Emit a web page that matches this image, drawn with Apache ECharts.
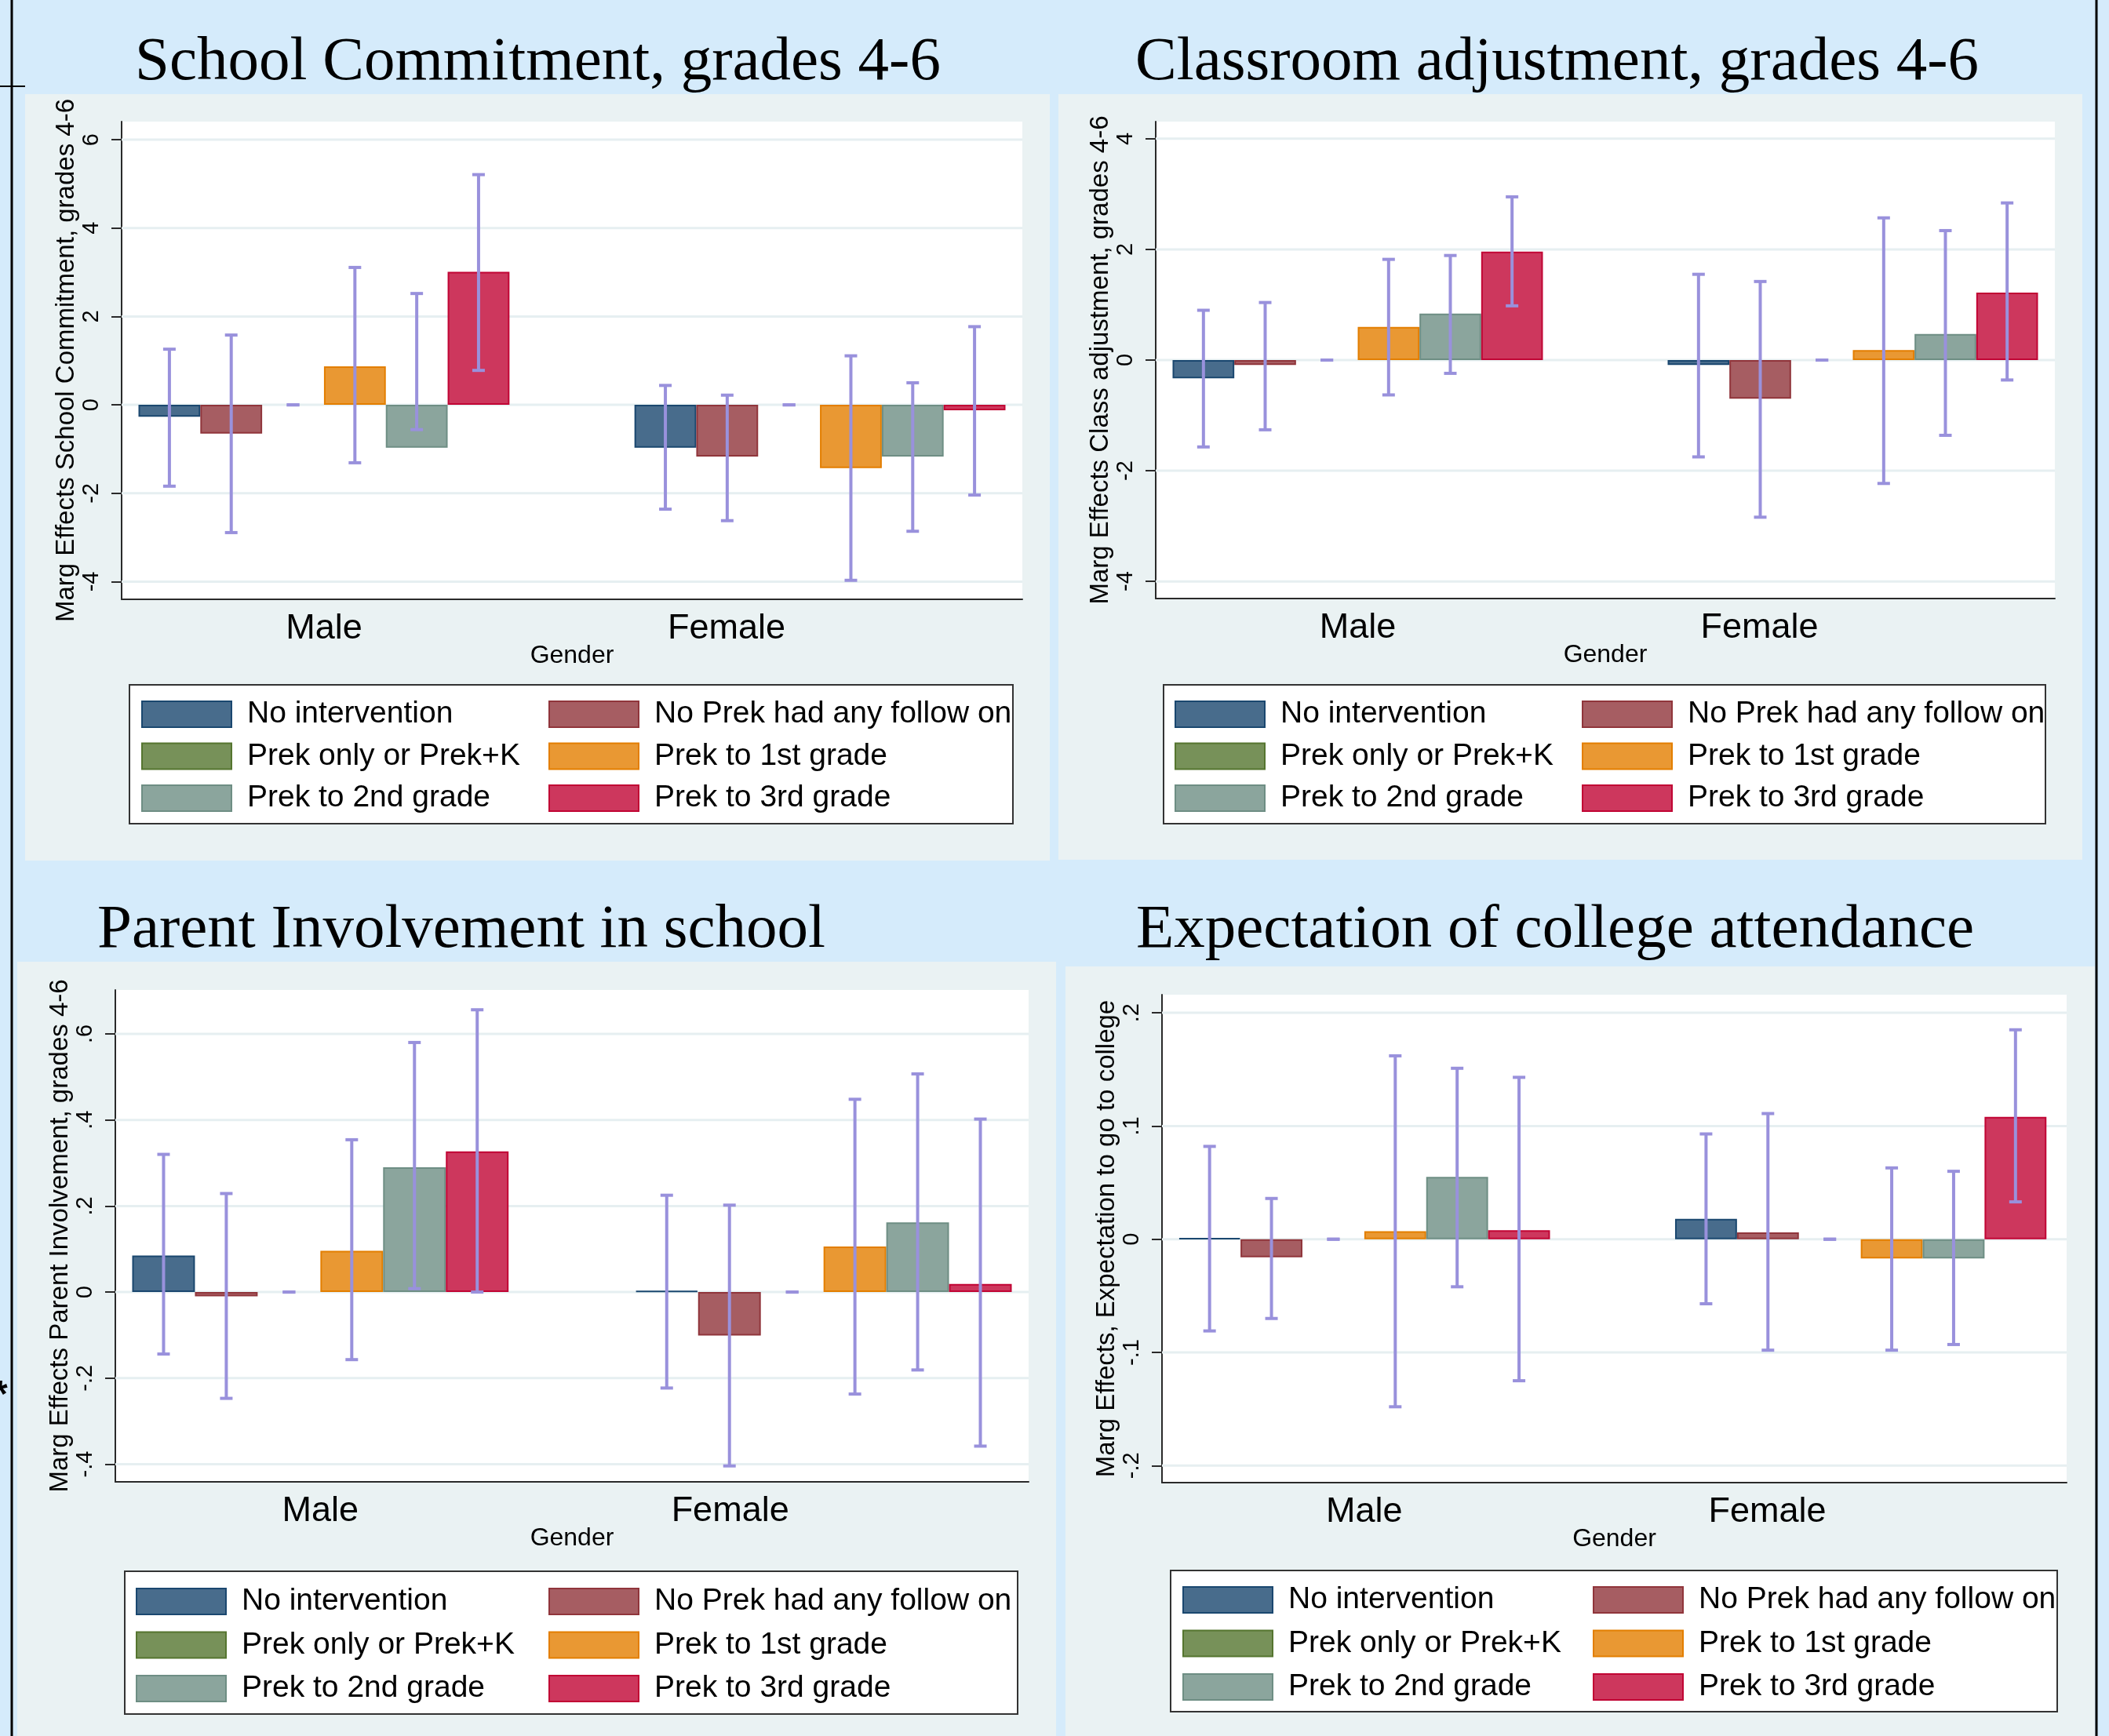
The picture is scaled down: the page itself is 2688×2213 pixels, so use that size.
<!DOCTYPE html>
<html><head><meta charset="utf-8">
<script src="https://cdn.jsdelivr.net/npm/echarts@6/dist/echarts.min.js"></script>
<style>html,body{margin:0;padding:0;background:#d5ebfb}#c{width:2688px;height:2213px}</style>
</head><body><div id="c"></div>
<script>
// ---------------- DATA ----------------
const categories = ['Male', 'Female'];
const seriesNames = ['No intervention', 'No Prek had any follow on', 'Prek only or Prek+K',
  'Prek to 1st grade', 'Prek to 2nd grade', 'Prek to 3rd grade'];
const legendCol1 = ['No intervention', 'Prek only or Prek+K', 'Prek to 2nd grade'];
const legendCol2 = ['No Prek had any follow on', 'Prek to 1st grade', 'Prek to 3rd grade'];
const xAxisTitle = 'Gender';

// Panel 1: School Commitment
const schoolTitle = 'School Commitment, grades 4-6';
const schoolYName = 'Marg Effects School Commitment, grades 4-6';
const schoolTicks = [-4, -2, 0, 2, 4, 6];
const schoolRange = [-4.40, 6.41];
const schoolMale = [-0.27, -0.65, 0, 0.87, -0.97, 3.01];
const schoolMaleLo = [-1.84, -2.89, 0, -1.31, -0.56, 0.78];
const schoolMaleHi = [1.26, 1.58, 0, 3.11, 2.52, 5.21];
const schoolFemale = [-0.97, -1.17, 0, -1.43, -1.17, -0.12];
const schoolFemaleLo = [-2.36, -2.62, 0, -3.97, -2.86, -2.04];
const schoolFemaleHi = [0.44, 0.22, 0, 1.11, 0.50, 1.77];

// Panel 2: Classroom adjustment
const classTitle = 'Classroom adjustment, grades 4-6';
const classYName = 'Marg Effects Class adjustment, grades 4-6';
const classTicks = [-4, -2, 0, 2, 4];
const classRange = [-4.31, 4.31];
const classMale = [-0.33, -0.09, 0, 0.60, 0.84, 1.96];
const classMaleLo = [-1.57, -1.26, 0, -0.63, -0.24, 0.98];
const classMaleHi = [0.90, 1.04, 0, 1.82, 1.89, 2.95];
const classFemale = [-0.09, -0.70, 0, 0.18, 0.47, 1.22];
const classFemaleLo = [-1.75, -2.84, 0, -2.23, -1.36, -0.36];
const classFemaleHi = [1.55, 1.42, 0, 2.57, 2.34, 2.84];

// Panel 3: Parent Involvement
const parentTitle = 'Parent Involvement in school';
const parentYName = 'Marg Effects Parent Involvement, grades 4-6';
const parentTicks = [-0.4, -0.2, 0, 0.2, 0.4, 0.6];
const parentRange = [-0.441, 0.702];
const parentMale = [0.085, -0.010, 0, 0.096, 0.290, 0.327];
const parentMaleLo = [-0.144, -0.247, 0, -0.157, 0.008, 0.000];
const parentMaleHi = [0.320, 0.229, 0, 0.354, 0.580, 0.656];
const parentFemale = [0.003, -0.101, 0, 0.106, 0.162, 0.019];
const parentFemaleLo = [-0.223, -0.404, 0, -0.237, -0.181, -0.358];
const parentFemaleHi = [0.225, 0.202, 0, 0.448, 0.507, 0.402];

// Panel 4: Expectation of college attendance
const collegeTitle = 'Expectation of college attendance';
const collegeYName = 'Marg Effects, Expectation to go to college';
const collegeTicks = [-0.2, -0.1, 0, 0.1, 0.2];
const collegeRange = [-0.215, 0.216];
const collegeMale = [0.001, -0.016, 0, 0.007, 0.055, 0.008];
const collegeMaleLo = [-0.081, -0.070, 0, -0.148, -0.042, -0.125];
const collegeMaleHi = [0.082, 0.036, 0, 0.162, 0.151, 0.143];
const collegeFemale = [0.018, 0.006, 0, -0.017, -0.017, 0.108];
const collegeFemaleLo = [-0.057, -0.098, 0, -0.098, -0.093, 0.033];
const collegeFemaleHi = [0.093, 0.111, 0, 0.063, 0.060, 0.185];

// ---------------- STYLE / LAYOUT ----------------
const FILLS = ['#486c8c', '#a65d62', '#779159', '#e99833', '#8ba59d', '#cd375d'];
const EDGES = ['#1a476f', '#90353b', '#55752f', '#e37e00', '#6e8e84', '#c10534'];
const ERR = '#9991dc';
const AXIS = '#2a2a2a';
const GRIDLINE = '#e6eff1';
const PANEL_BG = '#eaf2f3';
const PAGE_BG = '#d5ebfb';
const SANS = '"Liberation Sans", Arial, sans-serif';
const SERIF = '"Liberation Serif", "Times New Roman", serif';
const GAP = 0.252;
const LEGEND_ITEM_H = 39.5;

const panels = [
  { title: schoolTitle, yName: schoolYName, ticks: schoolTicks, range: schoolRange,
    male: schoolMale, maleLo: schoolMaleLo, maleHi: schoolMaleHi,
    female: schoolFemale, femaleLo: schoolFemaleLo, femaleHi: schoolFemaleHi },
  { title: classTitle, yName: classYName, ticks: classTicks, range: classRange,
    male: classMale, maleLo: classMaleLo, maleHi: classMaleHi,
    female: classFemale, femaleLo: classFemaleLo, femaleHi: classFemaleHi },
  { title: parentTitle, yName: parentYName, ticks: parentTicks, range: parentRange,
    male: parentMale, maleLo: parentMaleLo, maleHi: parentMaleHi,
    female: parentFemale, femaleLo: parentFemaleLo, femaleHi: parentFemaleHi },
  { title: collegeTitle, yName: collegeYName, ticks: collegeTicks, range: collegeRange,
    male: collegeMale, maleLo: collegeMaleLo, maleHi: collegeMaleHi,
    female: collegeFemale, femaleLo: collegeFemaleLo, femaleHi: collegeFemaleHi }
];

const layouts = [
  { plot: [155, 155, 1303, 764], bg: [32, 120, 1338, 1097], title: [172, 80],
    legend: [165, 873, 1291, 1050], cols: [180, 699], rows: [908, 962, 1016] },
  { plot: [1473, 155, 2619, 763], bg: [1349, 120, 2654, 1096], title: [1447, 80],
    legend: [1483, 873, 2607, 1050], cols: [1497, 2016], rows: [908, 962, 1016] },
  { plot: [147, 1262, 1311, 1889], bg: [22, 1226, 1346, 2213], title: [124, 1186],
    legend: [159, 2003, 1297, 2185], cols: [173, 699], rows: [2039, 2095, 2151] },
  { plot: [1481, 1268, 2634, 1890], bg: [1358, 1232, 2670, 2213], title: [1448, 1186],
    legend: [1492, 2002, 2622, 2182], cols: [1507, 2030], rows: [2037, 2093, 2149] }
];

const fmtTick = v => (v === 0 ? '0' : String(v).replace('0.', '.'));

function gridLineRender(params, api) {
  const a = api.coord([0, api.value(1)]);
  const b = api.coord([1, api.value(1)]);
  return { type: 'line', shape: { x1: a[0], y1: a[1], x2: b[0], y2: b[1] },
    style: { stroke: GRIDLINE, lineWidth: 3 } };
}

function errRender(params, api) {
  const g = api.value(0), k = api.value(1);
  const c = api.coord([g, 0]);
  const band = api.size([1, 0])[0];
  const bw = band * (1 - GAP) / seriesNames.length;
  const x = c[0] + (k - (seriesNames.length - 1) / 2) * bw;
  const yLo = api.coord([g, api.value(2)])[1];
  const yHi = api.coord([g, api.value(3)])[1];
  const st = { stroke: ERR, lineWidth: 4 };
  return { type: 'group', children: [
    { type: 'line', shape: { x1: x, y1: yLo, x2: x, y2: yHi }, style: st },
    { type: 'line', shape: { x1: x - 8, y1: yLo, x2: x + 8, y2: yLo }, style: st },
    { type: 'line', shape: { x1: x - 8, y1: yHi, x2: x + 8, y2: yHi }, style: st }
  ] };
}

const grid = [], xAxis = [], yAxis = [], series = [], legend = [], graphic = [];

// page decorations
graphic.push({ type: 'line', shape: { x1: 15, y1: 0, x2: 15, y2: 2213 }, style: { stroke: '#000', lineWidth: 3 }, z: 10 });
graphic.push({ type: 'line', shape: { x1: 0, y1: 110, x2: 32, y2: 110 }, style: { stroke: '#000', lineWidth: 2 }, z: 10 });
graphic.push({ type: 'line', shape: { x1: 2672, y1: 0, x2: 2672, y2: 2213 }, style: { stroke: '#000', lineWidth: 3 }, z: 10 });
graphic.push({ type: 'text', x: -9, y: 1780, style: { text: '*', font: 'bold 48px ' + SANS, fill: '#000', verticalAlign: 'middle' }, z: 10 });

panels.forEach((p, i) => {
  const L = layouts[i];
  const [x0, y0, x1, y1] = L.plot;
  const W = x1 - x0, H = y1 - y0;
  const B = (W - 43) / (1 + (1 - GAP));
  const G = (1 - GAP) * B;
  const maleCenter = x0 + 21.5 + G / 2;
  const barLeft = maleCenter - B / 2;

  graphic.push({ type: 'rect', shape: { x: L.bg[0], y: L.bg[1], width: L.bg[2] - L.bg[0], height: L.bg[3] - L.bg[1] },
    style: { fill: PANEL_BG }, z: -10 });
  graphic.push({ type: 'text', x: L.title[0], y: L.title[1],
    style: { text: p.title, font: '79px ' + SERIF, fill: '#000', verticalAlign: 'middle', align: 'left' }, z: 10 });
  graphic.push({ type: 'rect', shape: { x: L.legend[0], y: L.legend[1], width: L.legend[2] - L.legend[0], height: L.legend[3] - L.legend[1] },
    style: { fill: '#fff', stroke: '#333', lineWidth: 2 }, z: 1 });

  const fi = 2 * i, bi = 2 * i + 1;
  grid.push({ left: x0, top: y0, width: W, height: H, show: true, backgroundColor: '#fff', borderWidth: 0, containLabel: false });
  grid.push({ left: barLeft, top: y0, width: 2 * B, height: H, show: false, containLabel: false });

  xAxis.push({ type: 'value', gridIndex: fi, min: 0, max: 1, position: 'bottom',
    axisLine: { show: true, onZero: false, lineStyle: { color: AXIS, width: 2 } },
    axisTick: { show: false }, axisLabel: { show: false }, splitLine: { show: false },
    name: xAxisTitle, nameLocation: 'middle', nameGap: 56,
    nameTextStyle: { fontSize: 32, fontFamily: SANS, color: '#000' } });
  xAxis.push({ type: 'category', gridIndex: bi, data: categories, position: 'bottom',
    axisLine: { show: false }, axisTick: { show: false }, splitLine: { show: false },
    axisLabel: { margin: 15, fontSize: 45, fontFamily: SANS, color: '#000', interval: 0,
      formatter: (v, idx) => (idx === 1 ? '{f|' + v + '}' : '{m|' + v + '}'),
      rich: { m: { fontSize: 45, fontFamily: SANS, color: '#000' },
              f: { fontSize: 45, fontFamily: SANS, color: '#000', padding: [0, 238, 0, 0] } } } });

  yAxis.push({ type: 'value', gridIndex: fi, min: p.range[0], max: p.range[1],
    axisLine: { show: true, onZero: false, lineStyle: { color: AXIS, width: 2 } },
    axisTick: { show: true, length: 13, customValues: p.ticks, lineStyle: { color: AXIS, width: 2 } },
    axisLabel: { customValues: p.ticks, rotate: 90, margin: 24, formatter: fmtTick,
      fontSize: 29, fontFamily: SANS, color: '#000' },
    splitLine: { show: false },
    name: p.yName, nameLocation: 'middle', nameRotate: 90, nameGap: 52,
    nameTextStyle: { fontSize: 33, fontFamily: SANS, color: '#000' } });
  yAxis.push({ type: 'value', gridIndex: bi, min: p.range[0], max: p.range[1], show: false,
    splitLine: { show: false } });

  series.push({ type: 'custom', xAxisIndex: fi, yAxisIndex: fi, silent: true, z: 1,
    data: p.ticks.map(v => [0, v]), encode: { x: 0, y: 1 }, renderItem: gridLineRender });

  seriesNames.forEach((name, k) => {
    series.push({ type: 'bar', name, xAxisIndex: bi, yAxisIndex: bi,
      data: [p.male[k], p.female[k]], barGap: '0%', barCategoryGap: (GAP * 100) + '%',
      itemStyle: { color: FILLS[k], borderColor: EDGES[k], borderWidth: k === 2 ? 0 : 2 },
      emphasis: { disabled: true }, z: 2 });
  });

  const errData = [];
  seriesNames.forEach((name, k) => {
    errData.push([0, k, p.maleLo[k], p.maleHi[k]]);
    errData.push([1, k, p.femaleLo[k], p.femaleHi[k]]);
  });
  series.push({ type: 'custom', xAxisIndex: bi, yAxisIndex: bi, silent: true, z: 4,
    data: errData, encode: { x: 0, y: [2, 3] }, renderItem: errRender });

  [legendCol1, legendCol2].forEach((col, c) => {
    legend.push({ orient: 'vertical', left: L.cols[c], top: L.rows[0] - 17, padding: 0,
      itemWidth: 114, itemHeight: 33, itemGap: ((L.rows[2] - L.rows[0]) / 2) - LEGEND_ITEM_H,
      icon: 'rect', selectedMode: false, z: 5,
      data: col.map(n => (n === seriesNames[2]
        ? { name: n, itemStyle: { color: FILLS[2], borderColor: EDGES[2], borderWidth: 2 } }
        : n)),
      textStyle: { fontSize: 39, fontFamily: SANS, color: '#000', lineHeight: 33, padding: [0, 0, 0, 15] } });
  });
});

const chart = echarts.init(document.getElementById('c'), null, { renderer: 'canvas' });
chart.setOption({
  backgroundColor: PAGE_BG,
  animation: false,
  grid, xAxis, yAxis, series, legend, graphic
});
</script>
</body></html>
